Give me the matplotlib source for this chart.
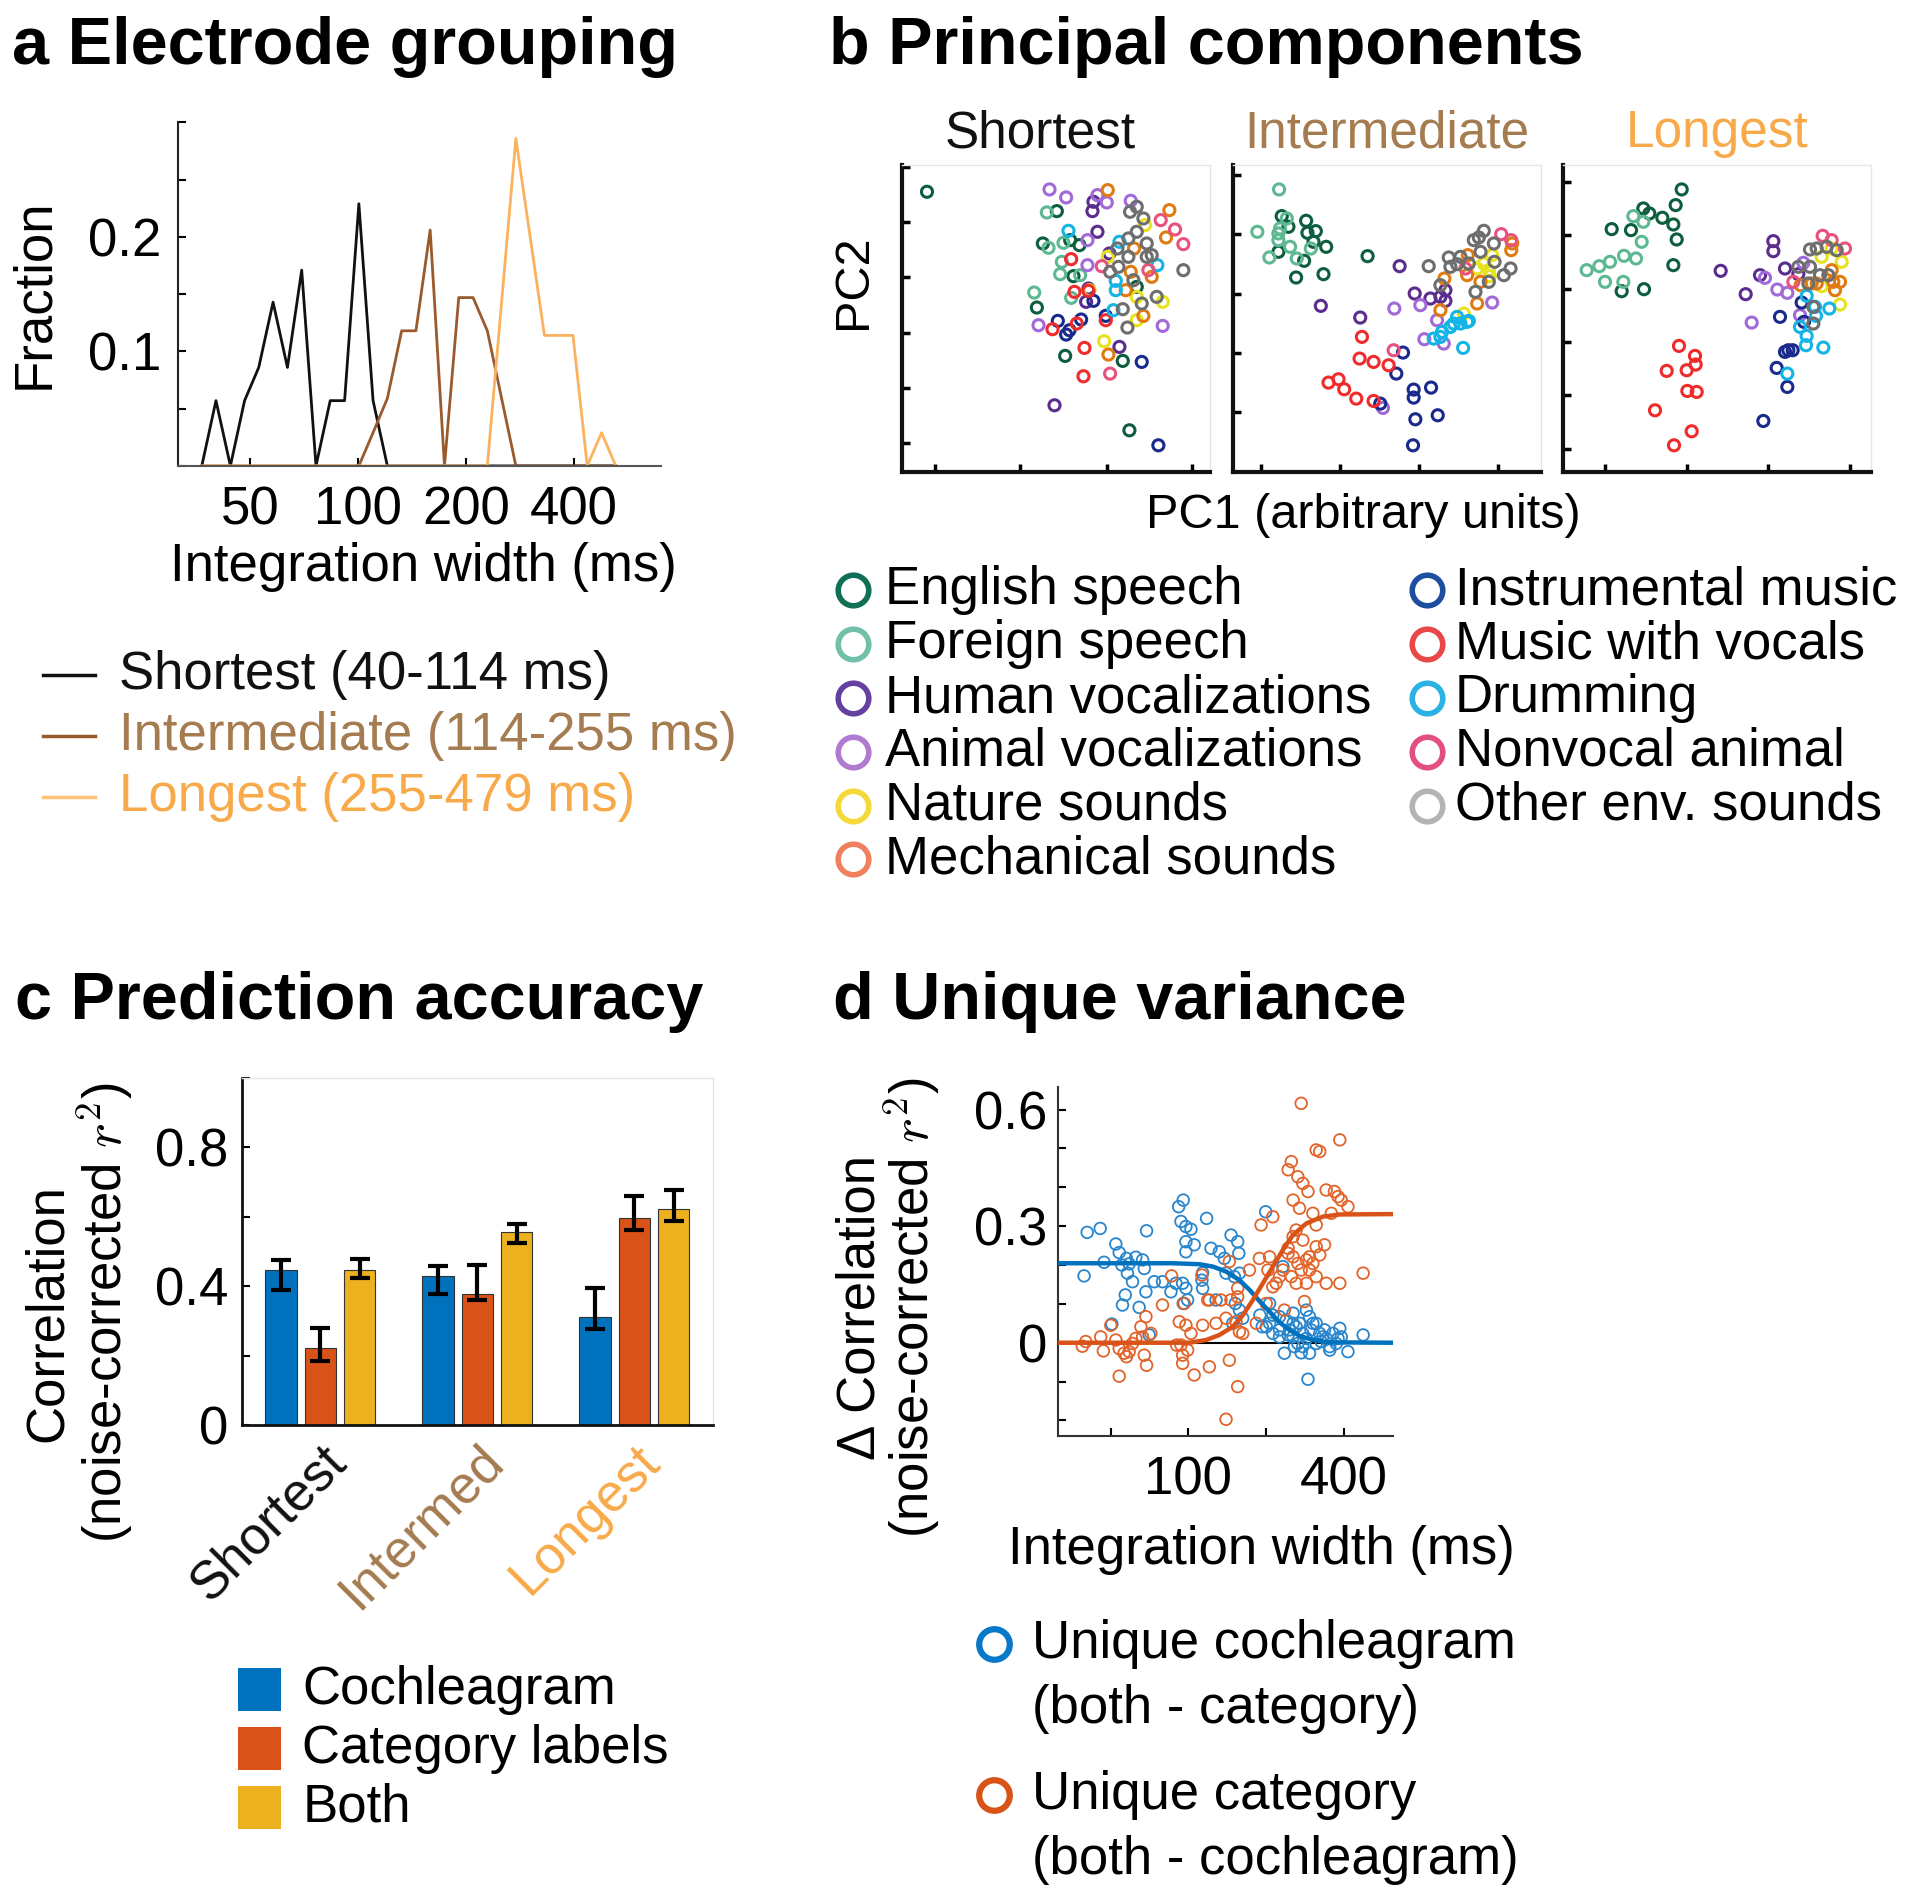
import numpy as np
import matplotlib
matplotlib.use("Agg")

import matplotlib.pyplot as plt
import matplotlib.transforms as mtransforms
from matplotlib.lines import Line2D
from matplotlib.patches import Rectangle

plt.rcParams['font.family'] = ['Liberation Sans', 'DejaVu Sans']
plt.rcParams['mathtext.fontset'] = 'cm'
plt.rcParams['font.size'] = 38
plt.rcParams['xtick.direction'] = 'in'
plt.rcParams['ytick.direction'] = 'in'
plt.rcParams['xtick.major.size'] = 6
plt.rcParams['ytick.major.size'] = 6

# ---------------- data ----------------
# a: electrode histograms over integration width (log bins, ms)
bin_ms = [36.7, 40.2, 44.1, 48.3, 52.9, 58.0, 63.6, 69.7, 76.4, 83.7,
          91.8, 100.6, 110.2, 120.8, 132.4, 145.1, 159.0, 174.3, 191.0, 209.4,
          229.5, 251.5, 275.6, 302.1, 331.1, 362.9, 397.7, 435.9, 477.7, 523.6]
frac_shortest = [0, .057, 0, .057, .086, .143, .086, .171, 0, .057,
                 .057, .229, .057, 0, 0, 0, 0, 0, 0, 0,
                 0, 0, 0, 0, 0, 0, 0, 0, 0, 0]
frac_intermediate = [0, 0, 0, 0, 0, 0, 0, 0, 0, 0,
                     0, 0, .029, .059, .118, .118, .206, 0, .147, .147,
                     .118, .059, 0, 0, 0, 0, 0, 0, 0, 0]
frac_longest = [0, 0, 0, 0, 0, 0, 0, 0, 0, 0,
                0, 0, 0, 0, 0, 0, 0, 0, 0, 0,
                0, .143, .286, .2, .114, .114, .114, 0, .029, 0]
group_names = ["Shortest (40-114 ms)", "Intermediate (114-255 ms)", "Longest (255-479 ms)"]

# b: principal components, arbitrary units (PC1, PC2)
categories = ["English speech", "Foreign speech", "Human vocalizations", "Animal vocalizations",
              "Nature sounds", "Mechanical sounds", "Instrumental music", "Music with vocals",
              "Drumming", "Nonvocal animal", "Other env. sounds"]
cat_colors = ['#0d5e3f', '#5db893', '#5b2d8e', '#a26ad9', '#e8e21c', '#e07b12',
              '#1a2a8c', '#f02b2b', '#14b4e6', '#e8527c', '#6e6e6e']
legend_colors = ['#107055', '#70c0aa', '#6440a0', '#b07ad0', '#f5d93a', '#ef7f5e',
                 '#1e4ea0', '#e84848', '#2ab2e4', '#e35080', '#b4b4b4']

pcs_shortest = {
    "English speech": [(140, 875), (530, 817), (488, 720), (598, 715), (580, 622), (470, 528),
                       (555, 383), (728, 368), (748, 160), (770, 590), (570, 730)],
    "Foreign speech": [(500, 813), (505, 707), (550, 722), (545, 665), (540, 628), (462, 573),
                       (573, 557), (600, 625)],
    "Human vocalizations": [(640, 845), (637, 817), (652, 755), (618, 545), (718, 410), (523, 235),
                            (688, 690), (625, 585)],
    "Animal vocalizations": [(508, 882), (558, 858), (652, 865), (680, 843), (752, 848), (622, 730),
                             (622, 655), (475, 475), (848, 473)],
    "Nature sounds": [(795, 775), (683, 680), (770, 560), (848, 545), (770, 490), (672, 427), (628, 580)],
    "Mechanical sounds": [(683, 880), (868, 820), (858, 738), (762, 705), (752, 635), (815, 620),
                          (737, 580), (790, 503), (685, 387)],
    "Instrumental music": [(533, 488), (558, 447), (603, 492), (640, 548), (677, 503), (785, 365),
                           (835, 115), (568, 460)],
    "Music with vocals": [(573, 673), (583, 575), (625, 578), (517, 463), (590, 480), (677, 490),
                          (613, 407), (610, 322)],
    "Drumming": [(565, 758), (718, 725), (832, 655), (707, 608), (707, 580), (700, 520)],
    "Nonvocal animal": [(842, 790), (885, 762), (910, 718), (665, 652), (805, 640), (690, 330)],
    "Other env. sounds": [(750, 815), (770, 830), (790, 795), (745, 735), (770, 755), (800, 720),
                          (815, 685), (745, 680), (715, 650), (690, 635), (760, 610), (830, 560),
                          (728, 523), (742, 468), (910, 640), (800, 680), (785, 540), (712, 705)],
}
pcs_intermediate = {
    "English speech": [(185, 802), (205, 770), (258, 788), (262, 752), (287, 757), (280, 725),
                       (318, 710), (175, 695), (252, 668), (228, 618), (310, 628), (442, 682)],
    "Foreign speech": [(177, 882), (112, 755), (200, 795), (175, 750), (175, 730), (210, 710),
                       (148, 678), (230, 675), (272, 705), (180, 765)],
    "Human vocalizations": [(538, 652), (302, 533), (420, 498), (583, 570), (630, 555), (660, 560),
                            (675, 580), (675, 548)],
    "Animal vocalizations": [(522, 525), (600, 535), (650, 490), (612, 433), (670, 420), (815, 543),
                             (488, 227)],
    "Nature sounds": [(730, 510), (790, 660), (815, 685), (805, 640), (770, 645), (808, 622)],
    "Mechanical sounds": [(672, 615), (660, 520), (742, 685), (740, 625), (780, 605), (770, 540),
                          (875, 720), (872, 700)],
    "Instrumental music": [(548, 393), (528, 330), (480, 240), (580, 282), (580, 258), (632, 288),
                           (585, 193), (652, 205), (578, 115)],
    "Music with vocals": [(425, 440), (418, 375), (460, 365), (505, 355), (325, 303), (355, 313),
                          (372, 283), (408, 255), (460, 248)],
    "Drumming": [(640, 435), (665, 455), (690, 470), (710, 500), (720, 480), (740, 485), (700, 480),
                 (728, 407), (745, 488), (660, 440)],
    "Nonvocal animal": [(520, 400), (842, 748), (872, 730), (735, 645)],
    "Other env. sounds": [(625, 652), (685, 678), (690, 650), (710, 658), (760, 730), (790, 758),
                          (775, 738), (820, 720), (822, 665), (850, 625), (870, 645), (765, 575),
                          (780, 695), (805, 605), (720, 680), (660, 595), (745, 660)],
}
pcs_longest = {
    "English speech": [(395, 882), (377, 835), (280, 825), (298, 810), (337, 797), (370, 777),
                       (185, 763), (243, 760), (380, 732), (370, 655), (215, 577), (282, 583)],
    "Foreign speech": [(110, 640), (148, 652), (180, 665), (222, 683), (258, 675), (165, 605),
                       (220, 605), (275, 725), (250, 802), (280, 785)],
    "Human vocalizations": [(670, 727), (670, 697), (512, 638), (705, 645), (630, 625), (587, 568),
                            (745, 628)],
    "Animal vocalizations": [(645, 617), (682, 582), (712, 572), (605, 483), (760, 662), (750, 505)],
    "Nature sounds": [(870, 537), (815, 680), (845, 705), (875, 665), (815, 592)],
    "Mechanical sounds": [(845, 640), (850, 605), (870, 605), (785, 600), (800, 600), (752, 595),
                          (855, 580)],
    "Instrumental music": [(755, 543), (690, 500), (762, 485), (705, 395), (715, 400), (728, 400),
                           (680, 347), (712, 290), (640, 188)],
    "Music with vocals": [(387, 413), (435, 383), (437, 357), (410, 340), (350, 338), (412, 278),
                          (440, 275), (315, 220), (425, 157), (372, 115)],
    "Drumming": [(770, 563), (795, 530), (798, 503), (750, 470), (770, 443), (768, 415), (820, 408),
                 (838, 525), (712, 330)],
    "Nonvocal animal": [(818, 743), (845, 730), (885, 705), (730, 605)],
    "Other env. sounds": [(780, 702), (800, 705), (830, 710), (860, 700), (780, 650), (810, 625),
                          (835, 625), (745, 650), (790, 530), (790, 480), (775, 600)],
}

# c: prediction accuracy
bar_groups = ["Shortest", "Intermed", "Longest"]
model_names = ["Cochleagram", "Category labels", "Both"]
corr_cochlea = [0.447, 0.430, 0.312]
corr_category = [0.221, 0.378, 0.596]
corr_both = [0.447, 0.556, 0.622]
ci_lo_cochlea = [0.389, 0.378, 0.276]
ci_hi_cochlea = [0.476, 0.457, 0.396]
ci_lo_category = [0.183, 0.361, 0.562]
ci_hi_category = [0.279, 0.462, 0.659]
ci_lo_both = [0.423, 0.524, 0.587]
ci_hi_both = [0.478, 0.579, 0.678]

# d: unique variance per electrode (integration width ms, delta correlation)
unique_cochlea = [
    (40.6, 0.284), (45.6, 0.294), (39.5, 0.172), (47.2, 0.207), (52.4, 0.254), (54.0, 0.232),
    (57.6, 0.217), (59.0, 0.203), (55.3, 0.200), (62.6, 0.220), (66.5, 0.213), (68.9, 0.288),
    (67.5, 0.191), (58.1, 0.179), (60.8, 0.157), (57.0, 0.123), (55.6, 0.097), (64.5, 0.091),
    (68.5, 0.131), (73.8, 0.157), (79.4, 0.157), (85.6, 0.131), (89.5, 0.153), (95.0, 0.153),
    (97.8, 0.140), (99.3, 0.110), (95.5, 0.101), (50.6, 0.048), (70.5, 0.020), (91.7, 0.350),
    (95.5, 0.367), (93.6, 0.312), (97.8, 0.299), (102.3, 0.292), (97.8, 0.260), (105.3, 0.252),
    (97.8, 0.234), (117.6, 0.320), (122.3, 0.243), (131.7, 0.234), (137.7, 0.217), (146.2, 0.277),
    (155.1, 0.260), (156.6, 0.230), (139.8, 0.179), (150.6, 0.170), (157.5, 0.179), (113.5, 0.180),
    (112.8, 0.161), (113.5, 0.140), (127.9, 0.110), (151.9, 0.101), (157.5, 0.084), (162.2, 0.063),
    (148.4, 0.050), (199, 0.337), (189, 0.071), (193, 0.041), (206, 0.101), (212, 0.071),
    (225, 0.067), (232, 0.196), (239, 0.058), (254, 0.076), (261, 0.041), (269, 0.050),
    (277, 0.024), (286, 0.084), (294, 0.067), (303, 0.050), (312, 0.050), (254, 0.015),
    (265, -0.002), (286, 0.011), (322, 0.024), (331, 0.015), (341, 0.011), (352, -0.010),
    (362, 0.024), (373, -0.002), (385, 0.037), (390, 0.015), (414, -0.023), (474, 0.020),
    (235, -0.027), (273, -0.026), (290, -0.094), (326, 0.003), (352, -0.019), (312, -0.002),
    (212, 0.024), (200, 0.041), (246, 0.033), (225, 0.033), (257, -0.010), (294, -0.027),
    (206, 0.050), (243, 0.020), (298, 0.033), (336, 0.033), (379, 0.011), (277, -0.010),
    (254, 0.050), (225, 0.015),
]
unique_category = [
    (38.9, -0.009), (40.1, 0.003), (45.8, 0.015), (46.9, -0.021), (52.4, 0.007), (54.0, -0.015),
    (56.4, -0.027), (57.6, -0.036), (59.0, -0.023), (60.8, -0.002), (62.6, 0.011), (66.5, 0.015),
    (67.5, -0.032), (68.9, -0.058), (65.5, 0.041), (68.5, 0.067), (54.0, -0.086), (50.1, 0.045),
    (71.6, 0.024), (79.4, 0.097), (86.1, 0.172), (90.0, -0.006), (92.2, 0.054), (97.8, 0.045),
    (95.0, -0.053), (93.6, -0.006), (102.3, 0.024), (105.3, -0.083), (96.4, 0.101), (99.3, -0.019),
    (95.0, -0.032), (112.8, 0.174), (120.5, 0.110), (113.5, 0.045), (120.5, -0.062), (133.7, 0.110),
    (127.9, 0.050), (139.8, 0.063), (144.0, 0.209), (144.0, -0.045), (152.8, 0.054), (155.1, 0.140),
    (155.1, 0.118), (155.1, -0.113), (139.8, -0.197), (157.5, 0.028), (162.2, 0.024), (172.2, 0.187),
    (188.2, 0.217), (191, 0.303), (212, 0.324), (200, 0.101), (203, 0.187), (206, 0.221),
    (212, 0.144), (218.5, 0.153), (225, 0.170), (243, 0.445), (250, 0.466), (254, 0.367),
    (265, 0.427), (277, 0.410), (290, 0.389), (269, 0.346), (254, 0.273), (261, 0.290),
    (277, 0.264), (243, 0.243), (254, 0.221), (265, 0.204), (273, 0.187), (286, 0.213),
    (294, 0.221), (273, 0.616), (312, 0.496), (322, 0.492), (385, 0.522), (341, 0.393),
    (367, 0.389), (379, 0.376), (390, 0.367), (414, 0.350), (357, 0.333), (312, 0.303),
    (336, 0.252), (312, 0.247), (322, 0.226), (341, 0.153), (385, 0.153), (312, 0.170),
    (286, 0.153), (303, 0.204), (474, 0.179), (235, 0.084), (281, 0.106), (243, 0.230),
    (261, 0.153), (294, 0.187), (146, 0.110), (183, 0.050), (232, 0.187), (250, 0.170),
    (303, 0.333), (118.7, 0.110),
]
fit_cochlea_ms = [31.2, 86.9, 110.3, 124.2, 140, 157.6, 172.4, 188.4, 206, 225, 246, 269, 303, 352, 610]
fit_cochlea = [0.2045, 0.2045, 0.202, 0.196, 0.183, 0.161, 0.136, 0.107, 0.080, 0.0525,
               0.0327, 0.018, 0.007, 0.001, 0.0]
fit_category_ms = [31.2, 100.9, 117.1, 131.8, 148.4, 162.4, 177.6, 194, 212.2, 232, 253.6,
                   285.8, 331.5, 384.6, 610]
fit_category = [0, 0, 0.007, 0.020, 0.041, 0.071, 0.110, 0.153, 0.196, 0.239, 0.277,
                0.307, 0.3245, 0.330, 0.331]

# ---------------- styling ----------------
c_short = '#111111'
c_inter = '#9a5a2c'
c_long = '#fbb25e'
t_inter = '#a57b50'
t_long = '#f8aa4a'
c_blue = '#0072bd'
c_red = '#d95319'
c_yellow = '#edb120'


def shift_labels(labels, dx_inch):
    # nudge tick labels sideways (in inches)
    for lab, d in zip(labels, dx_inch):
        lab.set_transform(lab.get_transform() + mtransforms.ScaledTranslation(d, 0, fig.dpi_scale_trans))


fig = plt.figure(figsize=(19.2, 19.04), dpi=100)

# ================= a =================
fig.text(0.0064, 0.9666, "a Electrode grouping", fontsize=48, fontweight='bold', va='baseline')
ax = fig.add_axes([0.0927, 0.7553, 0.2516, 0.1804])
ax.plot(bin_ms, frac_shortest, color=c_short, lw=2)
ax.plot(bin_ms, frac_intermediate, color=c_inter, lw=2)
ax.plot(bin_ms, frac_longest, color=c_long, lw=2)
ax.set_xscale('log')
ax.set_xlim(31.5, 700)
ax.set_ylim(0, 0.3)
ax.set_xticks([50, 100, 200, 400])
ax.set_xticklabels(['50', '100', '200', '400'])
ax.minorticks_off()
shift_labels(ax.get_xticklabels(), [0, -0.22, -0.1, -0.06])
ax.set_yticks(np.arange(0, 0.301, 0.05))
ax.set_yticklabels(['', '', '0.1', '', '0.2', '', ''])
ax.tick_params(axis='x', pad=14, width=1.5)
ax.tick_params(axis='y', pad=12, width=1.5)
for s in ['top', 'right']:
    ax.spines[s].set_visible(False)
ax.spines['left'].set_color('#222222')
ax.spines['bottom'].set_color('#555555')
ax.spines['left'].set_linewidth(1.5)
ax.spines['bottom'].set_linewidth(1.5)
fig.text(0.2207, 0.7023, "Integration width (ms)", ha='center', va='center')
fig.text(0.0179, 0.8457, "Fraction", rotation=90, ha='center', va='center')

a_line_colors = [c_short, c_inter, '#fdc37a']
a_text_colors = [c_short, t_inter, t_long]
for i, name in enumerate(group_names):
    y = 0.6457 - i * 0.0322
    fig.add_artist(Line2D([0.0223, 0.0497], [y, y], transform=fig.transFigure,
                          color=a_line_colors[i], lw=2.5))
    fig.text(0.0619, y, name, color=a_text_colors[i], va='center')

# ================= b =================
fig.text(0.4318, 0.9666, "b Principal components", fontsize=48, fontweight='bold', va='baseline')
b_specs = [
    ("Shortest", c_short, pcs_shortest, 0.4698, (65, 990), (35, 955),
     [165, 420, 680, 935], [122, 288, 452, 620, 785, 950], 0.45),
    ("Intermediate", t_inter, pcs_intermediate, 0.6420, (38, 960), (35, 955),
     [122, 358, 595, 832], [215, 393, 570, 748, 925], 0.5),
    ("Longest", t_long, pcs_longest, 0.8139, (38, 962), (35, 955),
     [165, 410, 655, 900], [105, 267, 425, 585, 745, 905], 0.5),
]
for title, tcol, pts, left, xl, yl, xt, yt, tx in b_specs:
    bx = fig.add_axes([left, 0.7521, 0.1604, 0.1612])
    for cat, col in zip(categories, cat_colors):
        xy = np.array(pts[cat])
        bx.scatter(xy[:, 0], xy[:, 1], s=64, facecolors='none', edgecolors=col, linewidths=2.2)
    bx.set_xlim(*xl)
    bx.set_ylim(*yl)
    bx.set_xticks(xt)
    bx.set_yticks(yt)
    bx.set_xticklabels([])
    bx.set_yticklabels([])
    bx.tick_params(length=6, width=2.5)
    for s in ['top', 'right']:
        bx.spines[s].set_color('#e6e6e6')
        bx.spines[s].set_linewidth(1)
    for s in ['left', 'bottom']:
        bx.spines[s].set_color('#111111')
        bx.spines[s].set_linewidth(3)
    bx.set_title(title, color=tcol, pad=13, fontsize=37, x=tx)

fig.text(0.4445, 0.8521, "PC2", rotation=90, ha='center', va='center', fontsize=35)
fig.text(0.7098, 0.7293, "PC1 (arbitrary units)", ha='center', va='center', fontsize=35)

b_rows = [0.6900, 0.6617, 0.6334, 0.6051, 0.5768, 0.5486]
for i, (cat, col) in enumerate(zip(categories, legend_colors)):
    if i < 6:
        mx, tx, y = 0.4445, 0.4611, b_rows[i]
    else:
        mx, tx, y = 0.7430, 0.7577, b_rows[i - 6]
    fig.add_artist(Line2D([mx], [y], transform=fig.transFigure, marker='o', ms=22,
                          mfc='none', mec=col, mew=4, linestyle='none'))
    fig.text(tx, y, cat, va='center')

# ================= c =================
fig.text(0.0077, 0.4650, "c Prediction accuracy", fontsize=48, fontweight='bold', va='baseline')
cx = fig.add_axes([0.1260, 0.2516, 0.2453, 0.1822])
xpos = np.arange(1, len(bar_groups) + 1)
bar_sets = [
    (corr_cochlea, ci_lo_cochlea, ci_hi_cochlea, c_blue, -0.25),
    (corr_category, ci_lo_category, ci_hi_category, c_red, 0.0),
    (corr_both, ci_lo_both, ci_hi_both, c_yellow, 0.25),
]
for vals, lo, hi, col, off in bar_sets:
    vals = np.array(vals)
    yerr = [vals - np.array(lo), np.array(hi) - vals]
    cx.bar(xpos + off, vals, width=0.2, color=col, edgecolor='#333333', linewidth=0.8, zorder=2)
    cx.errorbar(xpos + off, vals, yerr=yerr, fmt='none', ecolor='black', elinewidth=3,
                capsize=7, capthick=3, zorder=3)
cx.set_xlim(0.5, 3.5)
cx.set_ylim(0, 1.0)
cx.set_yticks(np.arange(0, 1.01, 0.2))
cx.set_yticklabels(['0', '', '0.4', '', '0.8', ''])
cx.set_xticks(xpos)
cx.set_xticklabels(bar_groups, rotation=45, ha='right', va='top', rotation_mode='anchor')
for lab, col in zip(cx.get_xticklabels(), [c_short, t_inter, t_long]):
    lab.set_color(col)
shift_labels(cx.get_xticklabels(), [0.1, 0.1, 0.08])
cx.tick_params(axis='x', length=0, pad=8)
cx.tick_params(axis='y', pad=10, width=1.5)
for s in ['top', 'right']:
    cx.spines[s].set_color('#e6e6e6')
    cx.spines[s].set_linewidth(1)
for s in ['left', 'bottom']:
    cx.spines[s].set_color('#111111')
    cx.spines[s].set_linewidth(2)
fig.text(0.0250, 0.3106, "Correlation", rotation=90, ha='center', va='center')
fig.text(0.0545, 0.3106, "(noise-corrected $r^2$)", rotation=90, ha='center', va='center')

for i, (name, col) in enumerate(zip(model_names, [c_blue, c_red, c_yellow])):
    y = 0.1125 - i * 0.0309
    fig.add_artist(Rectangle((0.1240, y - 0.0113), 0.0224, 0.0226, transform=fig.transFigure,
                             facecolor=col, edgecolor='none'))
    fig.text(0.1575, y, name, va='center')

# ================= d =================
fig.text(0.4337, 0.4650, "d Unique variance", fontsize=48, fontweight='bold', va='baseline')
dx = fig.add_axes([0.5512, 0.2458, 0.1742, 0.1835])
coch = np.array(unique_cochlea)
cat = np.array(unique_category)
dx.axhline(0, color='black', lw=1.5, zorder=1)
dx.scatter(coch[:, 0], coch[:, 1], s=70, facecolors='none', edgecolors='#2a86cc', linewidths=1.3, zorder=2)
dx.scatter(cat[:, 0], cat[:, 1], s=70, facecolors='none', edgecolors='#e2642a', linewidths=1.3, zorder=3)
dx.plot(fit_cochlea_ms, fit_cochlea, color=c_blue, lw=3.2, zorder=4)
dx.plot(fit_category_ms, fit_category, color=c_red, lw=3.2, zorder=5)
dx.set_xscale('log')
dx.set_xlim(31.4, 617)
dx.set_ylim(-0.24, 0.659)
dx.set_xticks([50, 100, 200, 400])
dx.set_xticklabels(['', '100', '', '400'])
dx.minorticks_off()
dx.set_yticks(np.arange(-0.2, 0.61, 0.1))
dx.set_yticklabels(['', '', '0', '', '', '0.3', '', '', '0.6'])
dx.tick_params(axis='x', pad=14, width=1.5)
dx.tick_params(axis='y', pad=8, width=1.5)
for s in ['top', 'right']:
    dx.spines[s].set_visible(False)
for s in ['left', 'bottom']:
    dx.spines[s].set_color('#333333')
    dx.spines[s].set_linewidth(1.5)
fig.text(0.4480, 0.3132, "Δ Correlation", rotation=90, ha='center', va='center')
fig.text(0.4748, 0.3132, "(noise-corrected $r^2$)", rotation=90, ha='center', va='center')
fig.text(0.6569, 0.1859, "Integration width (ms)", ha='center', va='center')

d_legend = [
    ("Unique cochleagram", "(both - category)", '#0a78c8', 0.1363, 0.1023),
    ("Unique category", "(both - cochleagram)", '#d95319', 0.0572, 0.0232),
]
for line1, line2, col, y1, y2 in d_legend:
    fig.add_artist(Line2D([0.5179], [y1], transform=fig.transFigure, marker='o', ms=22,
                          mfc='none', mec=col, mew=4.5, linestyle='none'))
    fig.text(0.5376, y1, line1, va='center')
    fig.text(0.5376, y2, line2, va='center')

fig.savefig("out.png", dpi=100)
